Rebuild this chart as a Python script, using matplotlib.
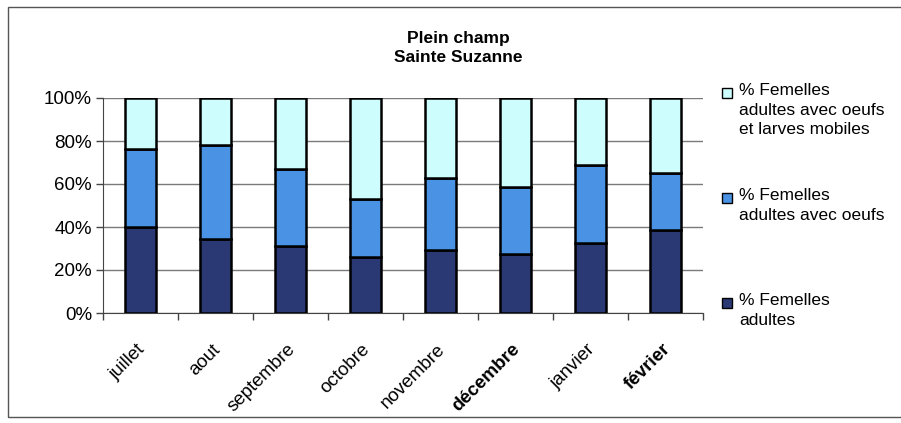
"""
Histogramme empilé 100 % : stades des femelles par mois
(Plein champ, Sainte Suzanne).
"""

import numpy as np
import matplotlib.pyplot as plt
from matplotlib.patches import Rectangle
from matplotlib.transforms import ScaledTranslation

# ==== DONNÉES (%) ====
MOIS = ["juillet", "aout", "septembre", "octobre", "novembre",
        "décembre", "janvier", "février"]
ADULTES = [40, 34.5, 31, 26, 29.5, 27.5, 32.5, 38.5]
AVEC_OEUFS = [36.5, 43.5, 36, 27, 33.5, 31, 36.5, 26.5]
OEUFS_LARVES = [23.5, 22, 33, 47, 37, 41.5, 31, 35]

SERIES = ["% Femelles\nadultes",
          "% Femelles\nadultes avec oeufs",
          "% Femelles\nadultes avec oeufs\net larves mobiles"]
COULEURS = ["#2a3973", "#4a93e4", "#cdfdfd"]

W, H, DPI = 901, 423, 100
plt.rcParams["font.family"] = ["Liberation Sans", "DejaVu Sans"]

fig = plt.figure(figsize=(W / DPI, H / DPI), dpi=DPI)
fig.patch.set_facecolor("white")

# cadre de la zone graphique
fig.add_artist(Rectangle((8 / W, 1 - 417 / H), 1.2, (417 - 7) / H,
                         transform=fig.transFigure, fill=False,
                         edgecolor="#555555", linewidth=1.0))

ax = fig.add_axes([103 / W, 1 - 313 / H, 600 / W, 215 / H])

x = np.arange(len(MOIS))
largeur = 0.41
bas = np.zeros(len(MOIS))
for vals, coul in zip([ADULTES, AVEC_OEUFS, OEUFS_LARVES], COULEURS):
    vals = np.array(vals, dtype=float)
    ax.bar(x, vals, largeur, bottom=bas, color=coul, edgecolor="black",
           linewidth=1.8, zorder=3)
    bas += vals

# axes
ax.set_xlim(-0.5, len(MOIS) - 0.5)
ax.set_ylim(0, 100)
ax.set_yticks(np.arange(0, 101, 20))
ax.set_yticklabels([f"{v}%" for v in range(0, 101, 20)], fontsize=13.5)
ax.grid(axis="y", color="#7a7a7a", linewidth=1.0, zorder=0)
for s in ["top", "right"]:
    ax.spines[s].set_visible(False)
for s in ["left", "bottom"]:
    ax.spines[s].set_color("#444444")
ax.tick_params(axis="y", length=5, width=1, color="#444444", pad=3)

# graduations X entre catégories, libellés au centre
ax.set_xticks(np.arange(-0.5, len(MOIS)), minor=True)
ax.set_xticks(x)
ax.tick_params(axis="x", which="minor", length=5, width=1, color="#444444")
ax.tick_params(axis="x", which="major", length=0, pad=20)
labels = ax.set_xticklabels(MOIS, rotation=45, ha="right",
                            rotation_mode="anchor", fontsize=13.5)
decal = ScaledTranslation(-4 / DPI, 0, fig.dpi_scale_trans)
for lab in labels:
    lab.set_transform(lab.get_transform() + decal)
    if lab.get_text() in ("décembre", "février"):
        lab.set_fontweight("bold")

# titre
fig.text(458 / W, 1 - 48 / H, "Plein champ\nSainte Suzanne", ha="center",
         va="center", fontsize=12.5, fontweight="bold", linespacing=1.35)

# légende (de haut en bas : larves, oeufs, adultes)
for lab, coul, y in zip(SERIES, COULEURS, [303, 198, 93]):
    fig.add_artist(Rectangle((722 / W, 1 - (y + 5) / H), 10 / W, 10 / H,
                             transform=fig.transFigure, facecolor=coul,
                             edgecolor="black", linewidth=1.0))
    fig.text(739 / W, 1 - (y - 10) / H, lab, ha="left", va="top",
             fontsize=12.5, linespacing=1.38)

fig.savefig("out.png", dpi=DPI)
